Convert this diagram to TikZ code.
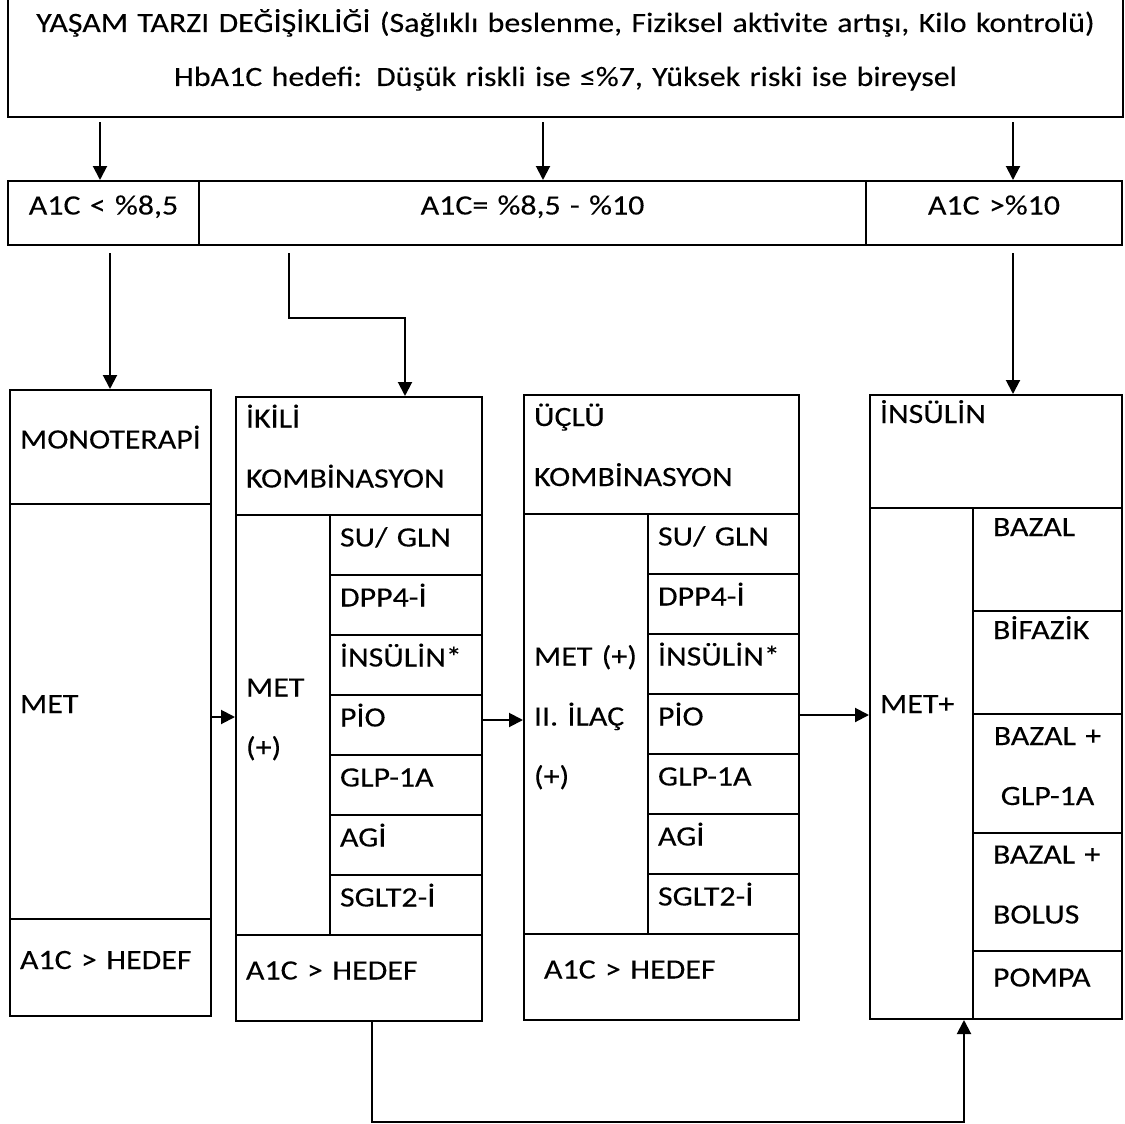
\documentclass[tikz,border=0pt]{standalone}
\usepackage{fontspec}
\setmainfont{Carlito}[FakeStretch=1.14, FakeBold=0.15, WordSpace=0.85]
\usetikzlibrary{arrows.meta}

\begin{document}
\begin{tikzpicture}[x=1pt, y=-1pt,
		hucre/.style 2 args={draw, line width=2pt, anchor=north west, inner xsep=10pt, inner ysep=0pt, text width=#1, minimum height=#2, align=left, font=\fontsize{28}{60}\selectfont, execute at begin node={\rule{0pt}{26pt}}, execute at end node={\rule[-23pt]{0pt}{23pt}}},
		ust/.style={hucre={1115pt}{119pt}, inner xsep=0pt, align=center, font=\fontsize{28}{54}\selectfont},
		aralik/.style={hucre={#1}{64pt}, align=center},
		ok/.style={-{Triangle[width=14pt,length=14pt]}, line width=2pt}]
	
	\useasboundingbox (0,0) rectangle (1125,1124);
	
	% Ust kutu
	\node[ust] (hedef) at (7,-3) {YAŞAM TARZI DEĞİŞİKLİĞİ (Sağlıklı beslenme, Fiziksel aktivite artışı, Kilo kontrolü)\\HbA1C hedefi: Düşük riskli ise ≤\%7, Yüksek riski ise bireysel};
	
	% A1C araliklari
	\node[aralik={171pt}] (dusuk) at (7,180) {A1C < \%8,5};
	\node[aralik={647pt}] (orta) at (198,180) {A1C= \%8,5 - \%10};
	\node[aralik={236pt}] (yuksek) at (865,180) {A1C >\%10};
	
	% Monoterapi
	\node[hucre={181pt}{114pt}] (mono) at (9,389) {MONOTERAPİ};
	\node[hucre={181pt}{415pt}] (mono_met) at (9,503) {MET};
	\node[hucre={181pt}{97pt}] (mono_a1c) at (9,918) {A1C > HEDEF};
	
	% Ikili kombinasyon
	\node[hucre={226pt}{118pt}] (ikili) at (235,396) {İKİLİ\\KOMBİNASYON};
	\node[hucre={74pt}{420pt}] (ikili_met) at (235,514) {MET\\(+)};
	\foreach \ilac [count=\i from 0] in {SU/ GLN, DPP4-İ, İNSÜLİN*, PİO, GLP-1A, AGİ, SGLT2-İ} {
		\node[hucre={132pt}{60pt}] (ik\i) at (329,514+60*\i) {\ilac};
	}
	\node[hucre={226pt}{86pt}] (ikili_a1c) at (235,934) {A1C > HEDEF};
	
	% Uclu kombinasyon
	\node[hucre={255pt}{119pt}] (uclu) at (523,394) {ÜÇLÜ\\KOMBİNASYON};
	\node[hucre={104pt}{420pt}] (uclu_met) at (523,513) {MET (+)\\II. İLAÇ\\(+)};
	\foreach \ilac [count=\i from 0] in {SU/ GLN, DPP4-İ, İNSÜLİN*, PİO, GLP-1A, AGİ, SGLT2-İ} {
		\node[hucre={131pt}{60pt}] (uc\i) at (647,513+60*\i) {\ilac};
	}
	\node[hucre={255pt}{86pt}] (uclu_a1c) at (523,933) {\hspace{10pt}A1C > HEDEF};
	
	% Insulin
	\node[hucre={232pt}{113pt}] (insulin) at (869,394) {İNSÜLİN\\\mbox{}};
	\node[hucre={83pt}{511pt}] (insulin_met) at (869,507) {MET+\\[44pt]\mbox{}};
	\node[hucre={109pt}{103pt}, inner xsep=20pt] (bazal) at (972,507) {BAZAL\\[-10pt]\mbox{}};
	\node[hucre={109pt}{103pt}, inner xsep=20pt] (bifazik) at (972,610) {BİFAZİK\\[-10pt]\mbox{}};
	\node[hucre={109pt}{119pt}, inner xsep=20pt, align=center] (bazal_glp) at (972,713) {BAZAL +\\GLP-1A};
	\node[hucre={109pt}{118pt}, inner xsep=20pt] (bazal_bolus) at (972,832) {BAZAL +\\BOLUS};
	\node[hucre={109pt}{68pt}, inner xsep=20pt] (pompa) at (972,950) {POMPA};
	
	% Oklar
	\draw[ok, shorten <=4pt] (100,0 |- hedef.south) -- (100,0 |- dusuk.north);
	\draw[ok, shorten <=4pt] (543,0 |- hedef.south) -- (543,0 |- orta.north);
	\draw[ok, shorten <=4pt] (1013,0 |- hedef.south) -- (1013,0 |- yuksek.north);
	\draw[ok, shorten <=7pt] (110,0 |- dusuk.south) -- (110,0 |- mono.north);
	\draw[ok, shorten <=7pt] (289,0 |- orta.south) |- (405,318) -- (405,0 |- ikili.north);
	\draw[ok, shorten <=7pt] (1013,0 |- yuksek.south) -- (1013,0 |- insulin.north);
	\draw[ok] (mono_met.east |- 0,717) -- (ikili_met.west |- 0,717);
	\draw[ok] (ik3.east |- 0,720) -- (uclu_met.west |- 0,720);
	\draw[ok] (uc3.east |- 0,715) -- (insulin_met.west |- 0,715);
	\draw[ok] (372,0 |- ikili_a1c.south) -- (372,1122) -| (964,0 |- insulin_met.south);
	
\end{tikzpicture}
\end{document}
